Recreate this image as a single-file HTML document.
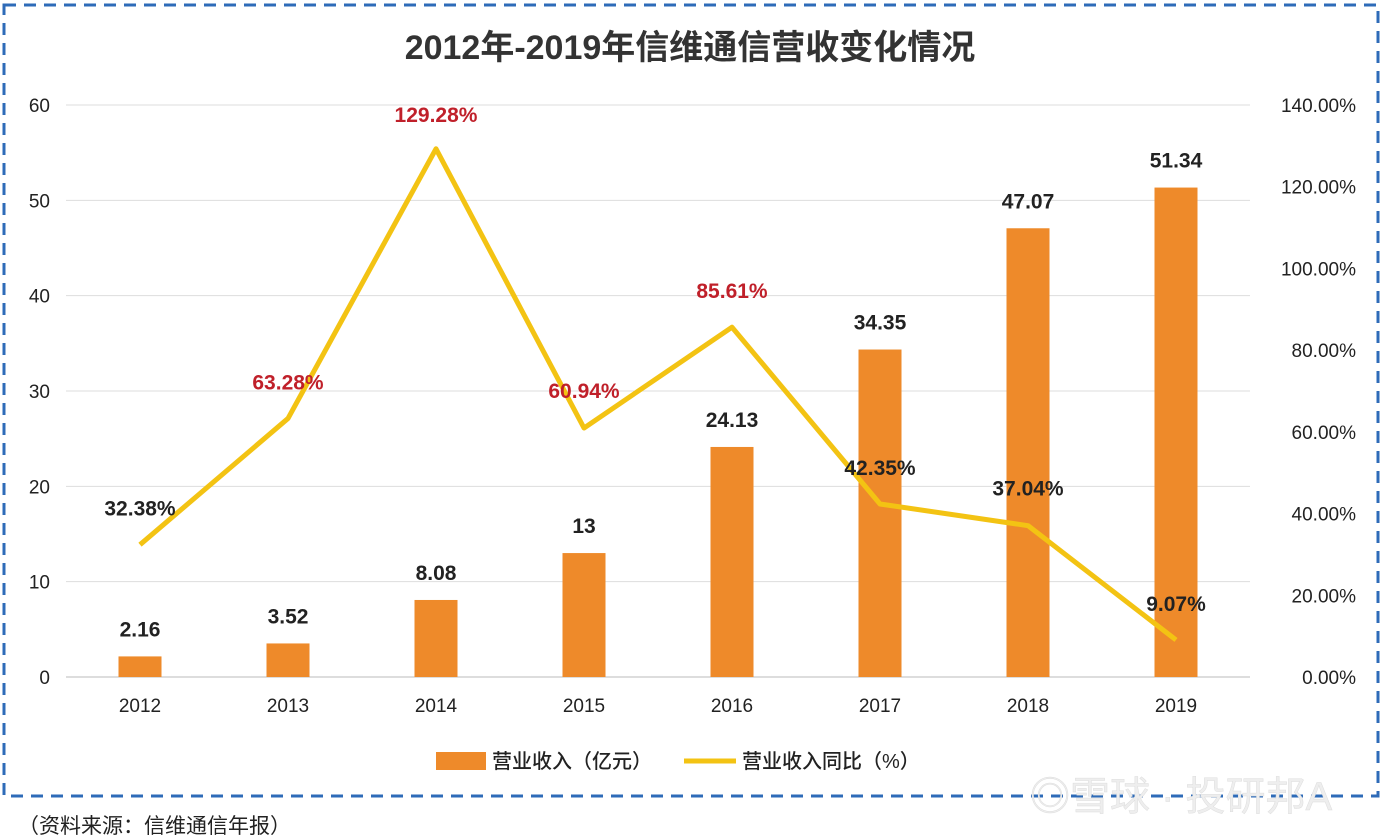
<!DOCTYPE html>
<html><head><meta charset="utf-8"><style>
body{margin:0;background:#fff;}
svg{display:block;font-family:"Liberation Sans","Noto Sans CJK SC",sans-serif;}
</style></head><body>
<svg id="c" width="1384" height="840">
<rect x="4" y="5" width="1374" height="791" fill="none" stroke="#2e6bb8" stroke-width="3" stroke-dasharray="12,8"/>
<text x="690" y="59" text-anchor="middle" font-size="34" font-weight="bold" fill="#333">2012年-2019年信维通信营收变化情况</text>
<g id="grid"></g><g id="bars"></g><g id="line"></g><g id="labels"></g>
<g>
<rect x="436" y="752" width="50" height="18" fill="#ee8a2a"/>
<text x="492" y="768" font-size="20" fill="#222" font-weight="500">营业收入（亿元）</text>
<line x1="684" y1="761" x2="736" y2="761" stroke="#f3c313" stroke-width="5"/>
<text x="742" y="768" font-size="20" fill="#222" font-weight="500">营业收入同比（%）</text>
</g>
<text x="18" y="833" font-size="21" fill="#222">（资料来源：信维通信年报）</text>
<text x="1030" y="810" font-size="40" fill="#eee" stroke="#ddd" stroke-width="0.5">◎雪球 · 投研邦A</text>
</svg>
<script>
const years=["2012","2013","2014","2015","2016","2017","2018","2019"];
const revenue=[2.16,3.52,8.08,13,24.13,34.35,47.07,51.34];
const growth=[32.38,63.28,129.28,60.94,85.61,42.35,37.04,9.07];
const leftTicks=[0,10,20,30,40,50,60];
const rightTicks=[0,20,40,60,80,100,120,140];
const redLabel=[false,true,true,true,true,false,false,false];
const lblOff=[[0,-29],[0,-29],[0,-27],[0,-30],[0,-29],[0,-29],[0,-30],[0,-29]];
const NS="http://www.w3.org/2000/svg";
const x0=66,band=148,yb=677,yt=105;
const yL=v=>yb-(v/60)*(yb-yt);
const yR=v=>yb-(v/140)*(yb-yt);
const xc=i=>x0+band*(i+0.5);
function mk(t,a,p){const e=document.createElementNS(NS,t);for(const k in a)e.setAttribute(k,a[k]);p.appendChild(e);return e;}
const G=document.getElementById('grid'),B=document.getElementById('bars'),L=document.getElementById('line'),T=document.getElementById('labels');
leftTicks.forEach(v=>{
 const ln=mk('line',{x1:x0,x2:1250,y1:yL(v),y2:yL(v),stroke:v===0?'#bbb':'#ddd','stroke-width':1},G);
 
 
 const t=mk('text',{x:50,y:yL(v)+7,'text-anchor':'end','font-size':19,fill:'#222','font-weight':500},G);t.textContent=v;
 
 
});
rightTicks.forEach(v=>{
 const t=mk('text',{x:1356,y:yR(v)+7,'text-anchor':'end','font-size':19,fill:'#222','font-weight':500},G);t.textContent=v.toFixed(2)+'%';
 
 
});
years.forEach((y,i)=>{
 const t=mk('text',{x:xc(i),y:712,'text-anchor':'middle','font-size':19,fill:'#222','font-weight':500},G);t.textContent=y;
 
 
 const r=mk('rect',{x:xc(i)-21.5,y:yL(revenue[i]),width:43,height:yb-yL(revenue[i]),fill:'#ee8a2a'},B);
 
 
 const bl=mk('text',{x:xc(i),y:yL(revenue[i])-20,'text-anchor':'middle','font-size':21,'font-weight':'bold',fill:'#222'},T);bl.textContent=revenue[i];
 
 
 const pl=mk('text',{x:xc(i)+lblOff[i][0],y:yR(growth[i])+lblOff[i][1],'text-anchor':'middle','font-size':21,'font-weight':'bold',fill:redLabel[i]?'#c0202a':'#222'},T);pl.textContent=growth[i].toFixed(2)+'%';
 
 
});
const pts=growth.map((g,i)=>xc(i)+','+yR(g)).join(' ');
const pl=mk('polyline',{points:pts,fill:'none',stroke:'#f3c313','stroke-width':5,'stroke-linejoin':'round'},L);


</script>
</body></html>
